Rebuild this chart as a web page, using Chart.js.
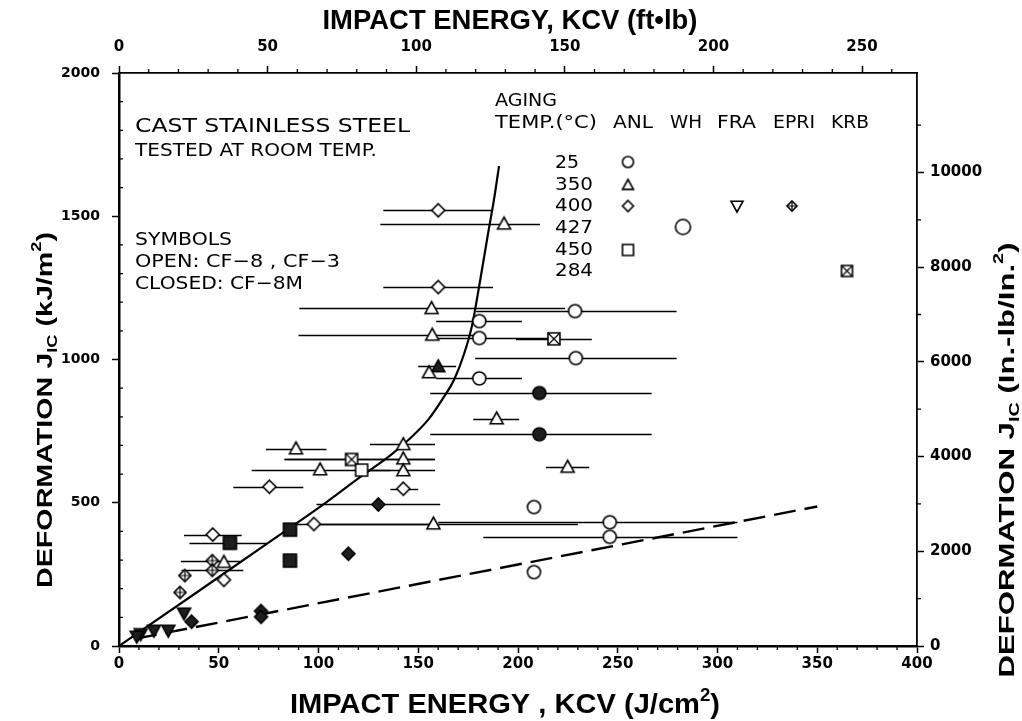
<!DOCTYPE html>
<html><head><meta charset="utf-8">
<script src="https://cdn.jsdelivr.net/npm/chart.js@4"></script>
<style>html,body{margin:0;padding:0;background:#fff}#wrap{width:1022px;height:721px;position:relative}</style>
</head><body><div id="wrap"><canvas id="c"></canvas></div>
<script>
// ---------- axes ----------
const xMin = 0, xMax = 400;          // J/cm^2 (bottom)
const x2Max = 268.5;                 // ft-lb (top)
const yMin = 0, yMax = 2000;         // kJ/m^2 (left)
const y2Max = 12100;                 // in-lb/in^2 (right)
const xTicks  = [0, 50, 100, 150, 200, 250, 300, 350, 400];
const x2Ticks = [0, 50, 100, 150, 200, 250];
const yTicks  = [0, 500, 1000, 1500, 2000];
const y2Ticks = [0, 2000, 4000, 6000, 8000, 10000];

// ---------- trend lines ----------
const curveX = [0, 40, 80, 100, 120, 136, 146, 155, 162, 168, 173, 177, 181, 185, 188, 190.5];
const curveY = [0, 192, 385, 482, 585, 665, 725, 790, 860, 930, 1020, 1120, 1275, 1440, 1560, 1675];
const dashX = [8, 350];
const dashY = [25, 487];

// ---------- data (x = KCV J/cm2, y = JIc kJ/m2, lo/hi = horizontal scatter bars) ----------
// ANL 25 C, open (CF-8, CF-3)
const anlCircX  = [228.6, 180.6, 180.6, 229.0, 180.6, 208.0, 246.0, 246.0, 208.0];
const anlCircY  = [1169, 1134, 1075, 1005, 934, 485, 432, 381, 258];
const anlCircLo = [179, 159, 159, 178.5, 159, null, 160, 182.6, null];
const anlCircHi = [279.5, 202, 219, 279.5, 202, null, 310, 310, null];
// ANL 25 C, closed (CF-8M)
const anlCircMX  = [210.7, 210.7];
const anlCircMY  = [883, 739];
const anlCircMLo = [156, 156];
const anlCircMHi = [267, 267];
// ANL 350 C, open
const anlTriX  = [193, 156.7, 157, 155.4, 189.3, 142.5, 142.5, 142.5, 88.7, 100.8, 224.9, 157.6, 52.6];
const anlTriY  = [1474, 1179, 1086, 955, 794, 704, 654, 613, 689, 616, 625, 427, 293];
const anlTriLo = [131, 90.4, 90, null, 177.6, 125.8, 83, 120, 73.7, 66.5, 214, 98, null];
const anlTriHi = [211, 223.6, 181, null, 200.6, 158.4, 158.4, 158.4, 104, 136, 235.7, 230, null];
// ANL 350 C, closed
const anlTriMX  = [160];
const anlTriMY  = [976];
const anlTriMLo = [150];
const anlTriMHi = [169];
// ANL 400 C, open
const anlDiaX  = [160, 160, 75.4, 142.5, 97.7, 47, 52.6];
const anlDiaY  = [1521, 1253, 556, 549, 426, 389, 231];
const anlDiaLo = [132.5, 132.5, 57.3, 136, 88, 32.6, null];
const anlDiaHi = [186.8, 187.5, 92.4, 150, 157, 61.5, null];
// ANL 400 C, closed
const anlDiaMX  = [130, 115, 71.2, 71.2, 36.4];
const anlDiaMY  = [494, 322, 122, 102, 85];
const anlDiaMLo = [99, null, null, null, null];
const anlDiaMHi = [161, null, null, null, null];
// ANL 450 C, open
const anlSqX = [121.6];
const anlSqY = [614];
// ANL 450 C, closed
const anlSqMX  = [85.7, 55.6, 85.7];
const anlSqMY  = [406, 360, 298];
const anlSqMLo = [null, 35.3, null];
const anlSqMHi = [null, 74, null];
// FRA 400 C, closed
const fraX = [32.6, 24.7, 17.5, 10.9, 8.9];
const fraY = [114, 54, 54, 42, 33];
// EPRI 400 C
const epriX  = [46.8, 46.8, 33, 30.6];
const epriY  = [298, 264, 246, 187];
const epriLo = [31, 31.4, null, null];
const epriHi = [60.7, 62.3, null, null];
// KRB 284 C
const krbX  = [218, 116.6];
const krbY  = [1072, 651];
const krbLo = [199, 83];
const krbHi = [237, 158.4];

// ---------- marker images ----------
function mk(type, size, filled) {
  const pad = 3, S = Math.ceil(size + pad * 2);
  const c = document.createElement('canvas'); c.width = S; c.height = S;
  const g = c.getContext('2d'); const cx = S / 2, cy = S / 2, r = size / 2;
  g.lineWidth = 1.6; g.strokeStyle = '#000'; g.fillStyle = filled ? '#1e1e1e' : '#fff';
  g.beginPath();
  if (type === 'circle') g.arc(cx, cy, r, 0, Math.PI * 2);
  else if (type === 'tri') { g.moveTo(cx, cy - r); g.lineTo(cx + r, cy + r * 0.8); g.lineTo(cx - r, cy + r * 0.8); g.closePath(); }
  else if (type === 'tridown') { g.moveTo(cx, cy + r); g.lineTo(cx + r, cy - r * 0.8); g.lineTo(cx - r, cy - r * 0.8); g.closePath(); }
  else if (type === 'dia' || type === 'diaplus') { g.moveTo(cx, cy - r); g.lineTo(cx + r, cy); g.lineTo(cx, cy + r); g.lineTo(cx - r, cy); g.closePath(); }
  else if (type === 'sq' || type === 'sqx') { g.rect(cx - r, cy - r, 2 * r, 2 * r); }
  g.fill(); g.stroke();
  if (type === 'diaplus') { g.beginPath(); g.moveTo(cx, cy - r); g.lineTo(cx, cy + r); g.moveTo(cx - r, cy); g.lineTo(cx + r, cy); g.lineWidth = 1.2; g.stroke(); }
  if (type === 'sqx') { g.beginPath(); g.moveTo(cx - r, cy - r); g.lineTo(cx + r, cy + r); g.moveTo(cx + r, cy - r); g.lineTo(cx - r, cy + r); g.lineWidth = 1.2; g.stroke(); }
  return c;
}
const M = {
  circ: mk('circle', 13, false), circF: mk('circle', 13, true), circWH: mk('circle', 15, false), circL: mk('circle', 11, false),
  tri: mk('tri', 13, false), triF: mk('tri', 13, true), triL: mk('tri', 11, false),
  dia: mk('dia', 13, false), diaF: mk('dia', 13, true), diaL: mk('dia', 11, false),
  sq: mk('sq', 12, false), sqF: mk('sq', 13, true), sqL: mk('sq', 11, false),
  triDF: mk('tridown', 13, true), triDL: mk('tridown', 12, false),
  epri: mk('diaplus', 12, false), epriL: mk('diaplus', 10, false),
  krb: mk('sqx', 12, false), krbL: mk('sqx', 11, false)
};

const pts = (X, Y) => X.map((x, i) => ({ x: x, y: Y[i] }));
const series = [
  { X: anlCircX, Y: anlCircY, lo: anlCircLo, hi: anlCircHi, m: M.circ },
  { X: anlCircMX, Y: anlCircMY, lo: anlCircMLo, hi: anlCircMHi, m: M.circF },
  { X: anlTriX, Y: anlTriY, lo: anlTriLo, hi: anlTriHi, m: M.tri },
  { X: anlTriMX, Y: anlTriMY, lo: anlTriMLo, hi: anlTriMHi, m: M.triF },
  { X: anlDiaX, Y: anlDiaY, lo: anlDiaLo, hi: anlDiaHi, m: M.dia },
  { X: anlDiaMX, Y: anlDiaMY, lo: anlDiaMLo, hi: anlDiaMHi, m: M.diaF },
  { X: anlSqX, Y: anlSqY, lo: null, hi: null, m: M.sq },
  { X: anlSqMX, Y: anlSqMY, lo: anlSqMLo, hi: anlSqMHi, m: M.sqF },
  { X: fraX, Y: fraY, lo: null, hi: null, m: M.triDF },
  { X: epriX, Y: epriY, lo: epriLo, hi: epriHi, m: M.epri },
  { X: krbX, Y: krbY, lo: krbLo, hi: krbHi, m: M.krb }
];

const datasets = [
  { type: 'line', data: pts(curveX, curveY), borderColor: '#000', borderWidth: 2.2, pointRadius: 0, cubicInterpolationMode: 'monotone', order: 5, xAxisID: 'x', yAxisID: 'y' },
  { type: 'line', data: pts(dashX, dashY), borderColor: '#000', borderWidth: 2.4, borderDash: [22, 9], pointRadius: 0, order: 5, xAxisID: 'x', yAxisID: 'y' }
];
series.forEach(s => datasets.push({ type: 'scatter', data: pts(s.X, s.Y), pointStyle: s.m, pointRadius: 7, order: 1, xAxisID: 'x', yAxisID: 'y' }));

// ---------- plugins ----------
const errorBars = {
  id: 'errorBars',
  beforeDatasetsDraw(chart) {
    const ctx = chart.ctx, xs = chart.scales.x, ys = chart.scales.y;
    ctx.save(); ctx.strokeStyle = '#000'; ctx.lineWidth = 1.4;
    series.forEach(s => {
      if (!s.lo) return;
      s.X.forEach((x, i) => {
        if (s.lo[i] == null) return;
        const py = Math.round(ys.getPixelForValue(s.Y[i])) + 0.5;
        ctx.beginPath(); ctx.moveTo(xs.getPixelForValue(s.lo[i]), py); ctx.lineTo(xs.getPixelForValue(s.hi[i]), py); ctx.stroke();
      });
    });
    ctx.restore();
  }
};

function minorTicks(ctx, scale, step, major, dir, len) {
  ctx.beginPath();
  for (let v = scale.min; v <= scale.max + 1e-6; v += step) {
    if (Math.abs(v / major - Math.round(v / major)) < 1e-6) continue;
    const p = scale.getPixelForValue(v);
    if (scale.isHorizontal()) {
      const y0 = scale.position === 'bottom' ? scale.top : scale.bottom;
      ctx.moveTo(p, y0); ctx.lineTo(p, y0 + dir * len);
    } else {
      const x0 = scale.position === 'left' ? scale.right : scale.left;
      ctx.moveTo(x0, p); ctx.lineTo(x0 + dir * len, p);
    }
  }
  ctx.stroke();
}

// rich text, centred at (x, y-baseline), optionally rotated and stretched to a target width
function rich(ctx, parts, x, y, rot, target) {
  ctx.save(); ctx.translate(x, y); if (rot) ctx.rotate(rot);
  let w = 0;
  parts.forEach(p => { ctx.font = p.f; p.w = ctx.measureText(p.t).width; w += p.w; });
  if (target) ctx.scale(target / w, 1);
  let cx = -w / 2; ctx.fillStyle = '#000'; ctx.textBaseline = 'alphabetic'; ctx.textAlign = 'left';
  parts.forEach(p => { ctx.font = p.f; ctx.fillText(p.t, cx, p.dy || 0); cx += p.w; });
  ctx.restore();
}
// left-aligned text, vertically centred, stretched to target width
function fit(ctx, t, x, y, font, target) {
  ctx.save(); ctx.font = font; ctx.textBaseline = 'middle'; ctx.textAlign = 'left'; ctx.fillStyle = '#000';
  const w = ctx.measureText(t).width; ctx.translate(x, y); ctx.scale(target / w, 1); ctx.fillText(t, 0, 0);
  ctx.restore();
}

const decor = {
  id: 'decor',
  afterDraw(chart) {
    const ctx = chart.ctx, sc = chart.scales;
    ctx.save(); ctx.strokeStyle = '#000'; ctx.lineWidth = 1.3;
    minorTicks(ctx, sc.x, 10, 50, 1, 4);
    minorTicks(ctx, sc.x2, 10, 50, -1, 4);
    minorTicks(ctx, sc.y, 100, 500, 1, 4);
    minorTicks(ctx, sc.y2, 1000, 2000, 1, 4);
    ctx.restore();

    // axis titles
    const B = 'bold ', F = '"Liberation Sans", Arial, sans-serif';
    rich(ctx, [{ t: 'IMPACT ENERGY, KCV (ft\u2022lb)', f: B + '27px ' + F }], 510, 29, 0, 375);
    rich(ctx, [{ t: 'IMPACT ENERGY , KCV (J/cm', f: B + '28px ' + F }, { t: '2', f: B + '18px ' + F, dy: -12 }, { t: ')', f: B + '28px ' + F }], 505, 713, 0, 430);
    rich(ctx, [{ t: 'DEFORMATION J', f: B + '22px ' + F }, { t: 'IC', f: B + '14px ' + F, dy: 5 }, { t: ' (kJ/m', f: B + '22px ' + F }, { t: '2', f: B + '14px ' + F, dy: -11 }, { t: ')', f: B + '22px ' + F }], 52, 410, -Math.PI / 2, 356);
    rich(ctx, [{ t: 'DEFORMATION J', f: B + '22px ' + F }, { t: 'IC', f: B + '14px ' + F, dy: 5 }, { t: ' (In.-lb/In.', f: B + '22px ' + F }, { t: '2', f: B + '14px ' + F, dy: -11 }, { t: ')', f: B + '22px ' + F }], 1014, 460, -Math.PI / 2, 435);

    // annotation text
    const T = '"DejaVu Sans", sans-serif';
    fit(ctx, 'CAST STAINLESS STEEL', 135, 127, '20px ' + T, 275);
    fit(ctx, 'TESTED AT ROOM TEMP.', 135, 151, '18px ' + T, 242);
    fit(ctx, 'SYMBOLS', 135, 240, '18px ' + T, 97);
    fit(ctx, 'OPEN: CF\u22128 , CF\u22123', 135, 262, '18px ' + T, 205);
    fit(ctx, 'CLOSED: CF\u22128M', 135, 284, '18px ' + T, 168);
    fit(ctx, 'AGING', 495, 101, '18px ' + T, 62);
    fit(ctx, 'TEMP.(\u00B0C)', 495, 123, '18px ' + T, 102);
    fit(ctx, 'ANL', 613, 123, '18px ' + T, 40);
    fit(ctx, 'WH', 670, 123, '18px ' + T, 32);
    fit(ctx, 'FRA', 717, 123, '18px ' + T, 39);
    fit(ctx, 'EPRI', 773, 123, '18px ' + T, 42);
    fit(ctx, 'KRB', 831, 123, '18px ' + T, 38);
    const temps = ['25', '350', '400', '427', '450', '284'], ty = [163, 185, 206, 228, 250, 271];
    temps.forEach((t, i) => fit(ctx, t, 555, ty[i], '18px ' + T, t.length === 2 ? 24 : 38));
    const sym = [[M.circL, 628, 162], [M.triL, 628, 185], [M.diaL, 628, 206], [M.sqL, 628, 250], [M.circWH, 683, 227], [M.triDL, 737, 206], [M.epriL, 792, 206], [M.krbL, 847, 271]];
    sym.forEach(s => ctx.drawImage(s[0], s[1] - s[0].width / 2, s[2] - s[0].height / 2));
  }
};

const tickFont = { family: '"DejaVu Sans", sans-serif', weight: 'bold', size: 14 };
const gridOpt = { drawOnChartArea: false, drawTicks: true, tickLength: 7, tickWidth: 1.5, tickColor: '#000' };
const bord = w => ({ display: true, color: '#000', width: w });
const setTicks = arr => function (s) { s.ticks = arr.map(v => ({ value: v })); };
const plain = v => String(v);

new Chart(document.getElementById('c'), {
  data: { datasets },
  options: {
    responsive: true, maintainAspectRatio: false, animation: false,
    layout: { padding: 0 },
    plugins: { legend: { display: false }, tooltip: { enabled: false } },
    scales: {
      x: { type: 'linear', position: 'bottom', min: xMin, max: xMax, display: true, afterBuildTicks: setTicks(xTicks),
           ticks: { font: Object.assign({}, tickFont, { size: 15 }), color: '#000', padding: 2, maxRotation: 0, callback: plain },
           grid: gridOpt, border: bord(2.5), afterFit(s) { s.height = 75; } },
      x2: { type: 'linear', position: 'top', min: 0, max: x2Max, display: true, afterBuildTicks: setTicks(x2Ticks),
           ticks: { font: Object.assign({}, tickFont, { size: 15 }), color: '#000', padding: 10, maxRotation: 0, callback: plain },
           grid: gridOpt, border: bord(1.8), afterFit(s) { s.height = 73; } },
      y: { type: 'linear', position: 'left', min: yMin, max: yMax, display: true, afterBuildTicks: setTicks(yTicks),
           ticks: { font: tickFont, color: '#000', padding: 12, callback: plain },
           grid: gridOpt, border: bord(2.5), afterFit(s) { s.width = 119; } },
      y2: { type: 'linear', position: 'right', min: 0, max: y2Max, display: true, afterBuildTicks: setTicks(y2Ticks),
           ticks: { font: Object.assign({}, tickFont, { size: 15 }), color: '#000', padding: 6, callback: plain },
           grid: gridOpt, border: bord(1.8), afterFit(s) { s.width = 105; } }
    }
  },
  plugins: [errorBars, decor]
});
</script></body></html>
